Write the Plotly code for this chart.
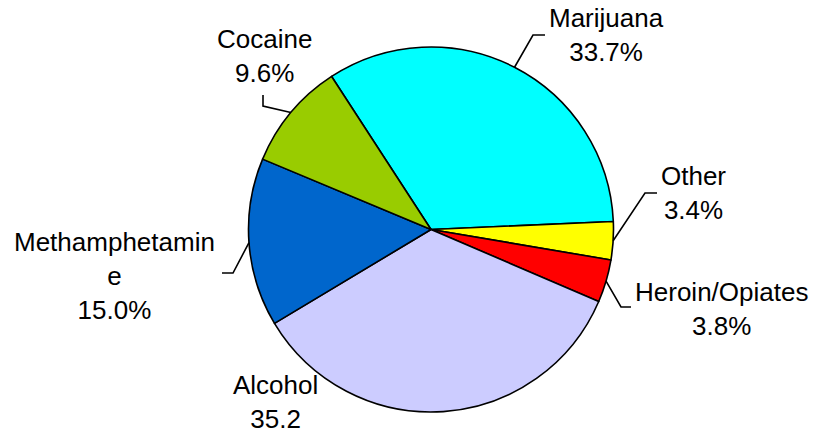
import math
import plotly.graph_objects as go

# Share of admissions by primary substance (clockwise from Marijuana)
categories = ["Marijuana", "Other", "Heroin/Opiates", "Alcohol", "Methamphetamine", "Cocaine"]
shares = [33.7, 3.4, 3.8, 35.2, 15.0, 9.6]
label_names = ["Marijuana", "Other", "Heroin/Opiates", "Alcohol", "Methamphetamin<br>e", "Cocaine"]
value_suffix = ["%", "%", "%", "", "%", "%"]
slice_colors = ["#00FFFF", "#FFFF00", "#FF0000", "#CCCCFF", "#0066CC", "#99CC00"]

W, H = 814, 433
CX, CY, R = 431.0, 229.5, 182.5
ROTATION = -33.0
FONT = dict(family="Liberation Sans, Arial, sans-serif", size=26, color="#000000")

# label centre (px) and leader-line elbow/end points (px); None = no leader
label_layout = {
    "Marijuana": dict(center=(606, 35), leader=[(533, 35), (545, 35)]),
    "Other": dict(center=(693, 193), leader=[(645, 193), (657, 193)]),
    "Heroin/Opiates": dict(center=(721, 309), leader=[(621, 307), (631, 307)]),
    "Alcohol": dict(center=(275, 402), leader=None),
    "Methamphetamine": dict(center=(114, 276), leader=[(233, 273), (222, 273)]),
    "Cocaine": dict(center=(264, 56), leader=[(263, 106), (263, 95)]),
}


def px_x(x):
    return x / W


def px_y(y):
    return 1 - y / H


fig = go.Figure(
    go.Pie(
        labels=categories,
        values=shares,
        sort=False,
        direction="clockwise",
        rotation=ROTATION,
        marker=dict(colors=slice_colors, line=dict(color="#000000", width=1.6)),
        textinfo="none",
        hoverinfo="label+percent",
        showlegend=False,
        domain=dict(
            x=[px_x(CX - R), px_x(CX + R)],
            y=[px_y(CY + R), px_y(CY - R)],
        ),
    )
)

total = sum(shares)
annotations = []
shapes = []
angle = ROTATION
for cat, name, v, suf in zip(categories, label_names, shares, value_suffix):
    span = v / total * 360.0
    mid = math.radians(angle + span / 2)
    angle += span
    lay = label_layout[cat]
    lx, ly = lay["center"]
    annotations.append(
        dict(
            x=px_x(lx), y=px_y(ly), xref="paper", yref="paper",
            text=f"{name}<br>{v:.1f}{suf}", showarrow=False,
            xanchor="center", yanchor="middle", align="center", font=FONT,
        )
    )
    if lay["leader"]:
        ex = CX + R * math.sin(mid)
        ey = CY - R * math.cos(mid)
        pts = [(ex, ey)] + lay["leader"]
        path = "M " + " L ".join(f"{px_x(x):.5f},{px_y(y):.5f}" for x, y in pts)
        shapes.append(
            dict(type="path", path=path, xref="paper", yref="paper",
                 line=dict(color="#000000", width=1.6))
        )

fig.update_layout(
    width=W, height=H,
    margin=dict(l=0, r=0, t=0, b=0),
    paper_bgcolor="#FFFFFF", plot_bgcolor="#FFFFFF",
    annotations=annotations, shapes=shapes,
)

fig.write_html("out.html")
